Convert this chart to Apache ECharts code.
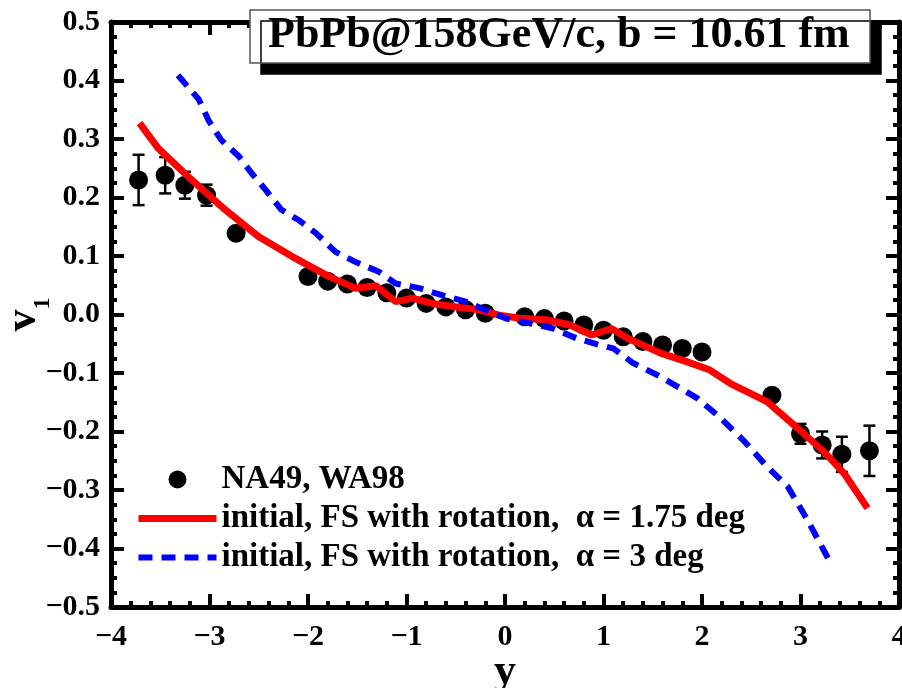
<!DOCTYPE html>
<html>
<head>
<meta charset="utf-8">
<script src="https://cdn.jsdelivr.net/npm/echarts@6/dist/echarts.min.js"></script>
<style>
  html, body { margin: 0; padding: 0; background: #fff; }
  #chart { width: 902px; height: 688px; }
</style>
</head>
<body>
<div id="chart"></div>
<script>
// data points NA49, WA98 (y, v1, error)
var dataX = [-3.72, -3.45, -3.25, -3.03, -2.73, -2.0, -1.8, -1.6, -1.4, -1.2, -1.0, -0.8, -0.6, -0.4, -0.2,
             0.2, 0.4, 0.6, 0.8, 1.0, 1.2, 1.4, 1.6, 1.8, 2.0, 2.71, 3.0, 3.22, 3.42, 3.70];
var dataY = [0.230, 0.238, 0.221, 0.204, 0.139, 0.065, 0.057, 0.052, 0.046, 0.037, 0.028, 0.019, 0.013, 0.008, 0.002,
             -0.004, -0.007, -0.011, -0.018, -0.027, -0.038, -0.046, -0.052, -0.058, -0.064, -0.138, -0.204, -0.223, -0.239, -0.233];
var dataErr = [0.043, 0.031, 0.023, 0.018, 0, 0, 0, 0, 0, 0, 0, 0, 0, 0, 0,
               0, 0, 0, 0, 0, 0, 0, 0, 0, 0, 0, 0.017, 0.023, 0.030, 0.043];

// alpha = 1.75 deg
var redX = [-3.71, -3.52, -3.18, -2.84, -2.50, -2.16, -1.80, -1.52, -1.31, -1.11, -0.94, -0.74, -0.46, -0.26, -0.06,
            0.15, 0.42, 0.66, 0.88, 1.08, 1.25, 1.58, 1.85, 2.08, 2.29, 2.66, 3.01, 3.24, 3.44, 3.68];
var redY = [0.327, 0.284, 0.230, 0.179, 0.133, 0.099, 0.066, 0.045, 0.049, 0.022, 0.028, 0.019, 0.012, 0.008, -0.001,
            -0.0065, -0.009, -0.018, -0.035, -0.024, -0.041, -0.066, -0.081, -0.095, -0.118, -0.149, -0.200, -0.235, -0.271, -0.331];

// alpha = 3 deg
var blueX = [-3.32, -3.11, -3.01, -2.88, -2.70, -2.57, -2.43, -2.27, -2.10, -1.92, -1.72, -1.52, -1.28, -1.11, -0.87, -0.64, -0.40, -0.16,
             0.01, 0.25, 0.49, 0.73, 0.96, 1.10, 1.30, 1.54, 1.78, 1.95, 2.19, 2.42, 2.66, 2.87, 3.07, 3.29];
var blueY = [0.409, 0.368, 0.332, 0.298, 0.270, 0.241, 0.213, 0.179, 0.162, 0.139, 0.107, 0.090, 0.073, 0.053, 0.045, 0.033, 0.022, 0.005,
             -0.007, -0.015, -0.024, -0.041, -0.052, -0.058, -0.083, -0.103, -0.126, -0.143, -0.177, -0.215, -0.260, -0.294, -0.351, -0.420];

var seriesNames = ['NA49, WA98', 'initial, FS with rotation,  \u03b1 = 1.75 deg', 'initial, FS with rotation,  \u03b1 = 3 deg'];
var titleText = 'PbPb@158GeV/c, b = 10.61 fm';

var FONT = '"Liberation Serif", "Times New Roman", serif';

var pairs = function(xs, ys){
    return xs.map(function(x, i){ return [x, ys[i]]; });
};
var minus = function(s){ return s.replace('-', '\u2212'); };

var axisBase = function(pos, showLabel, isX){
    return {
        type: 'value',
        position: pos,
        min: isX ? -4 : -0.5,
        max: isX ? 4 : 0.5,
        interval: isX ? 1 : 0.1,
        axisLine: { show: true, onZero: false, lineStyle: { color: '#000', width: 5 } },
        axisTick: { show: true, inside: true, length: 13, lineStyle: { color: '#000', width: 4 } },
        minorTick: { show: true, splitNumber: isX ? 5 : 4, length: 6, lineStyle: { color: '#000', width: 4 } },
        splitLine: { show: false },
        axisLabel: {
            show: showLabel,
            margin: isX ? 15 : 11,
            fontFamily: FONT, fontWeight: 'bold', fontSize: 30, color: '#000',
            formatter: function(v){
                return isX ? minus(String(Math.round(v))) : minus(v.toFixed(1));
            }
        }
    };
};

var xBottom = axisBase('bottom', true, true);
xBottom.name = 'y';
xBottom.nameLocation = 'middle';
xBottom.nameGap = 44;
xBottom.nameMoveOverlap = false;
xBottom.nameTextStyle = { fontFamily: FONT, fontWeight: 'bold', fontSize: 44, color: '#000' };

var yLeft = axisBase('left', true, false);
yLeft.name = '{v|v}{s|1}';
yLeft.nameLocation = 'middle';
yLeft.nameRotate = 90;
yLeft.nameGap = 56;
yLeft.nameMoveOverlap = false;
yLeft.nameTextStyle = {
    color: '#000',
    rich: {
        v: { fontFamily: FONT, fontWeight: 'bold', fontSize: 44, color: '#000' },
        s: { fontFamily: FONT, fontWeight: 'bold', fontSize: 24, color: '#000', padding: [38, 0, 0, 0] }
    }
};

var chart = echarts.init(document.getElementById('chart'));
var option = {
    animation: false,
    backgroundColor: '#fff',
    title: {
        text: titleText,
        left: 250, top: 10,
        padding: [4, 20, 5, 18],
        backgroundColor: '#fff',
        borderColor: '#555', borderWidth: 1.5,
        shadowColor: '#000', shadowBlur: 0, shadowOffsetX: 11, shadowOffsetY: 11,
        textStyle: { fontFamily: FONT, fontWeight: 'bold', fontSize: 44, color: '#000' }
    },
    grid: { left: 111, right: 3, top: 22, bottom: 81, containLabel: false, outerBoundsMode: 'none' },
    legend: {
        data: [
            { name: seriesNames[0], icon: 'circle', itemStyle: { opacity: 1, color: '#000' } },
            { name: seriesNames[1], lineStyle: { width: 7 } },
            { name: seriesNames[2], lineStyle: { width: 6, type: [14, 9] } }
        ],
        orient: 'vertical',
        left: 135, top: 463,
        padding: 0,
        itemGap: 6,
        itemWidth: 78, itemHeight: 18,
        itemStyle: { opacity: 0 },
        textStyle: { fontFamily: FONT, fontWeight: 'bold', fontSize: 33, color: '#000' }
    },
    xAxis: [xBottom, axisBase('top', false, true)],
    yAxis: [yLeft, axisBase('right', false, false)],
    series: [
        {
            name: 'err',
            type: 'custom',
            z: 3,
            data: dataX.map(function(x, i){ return [x, dataY[i], dataErr[i]]; }),
            encode: { x: 0, y: 1 },
            renderItem: function(params, api){
                var e = api.value(2);
                if(!e) return null;
                var x = api.value(0), y = api.value(1);
                var hi = api.coord([x, y + e]), lo = api.coord([x, y - e]);
                var st = { stroke: '#000', lineWidth: 2.5 };
                return { type: 'group', children: [
                    { type: 'line', shape: { x1: hi[0], y1: hi[1], x2: lo[0], y2: lo[1] }, style: st },
                    { type: 'line', shape: { x1: hi[0] - 6, y1: hi[1], x2: hi[0] + 6, y2: hi[1] }, style: st },
                    { type: 'line', shape: { x1: lo[0] - 6, y1: lo[1], x2: lo[0] + 6, y2: lo[1] }, style: st }
                ]};
            }
        },
        {
            name: seriesNames[0],
            type: 'scatter',
            z: 4,
            symbol: 'circle',
            symbolSize: 19,
            itemStyle: { color: '#000', opacity: 1 },
            data: pairs(dataX, dataY)
        },
        {
            name: seriesNames[1],
            type: 'line',
            z: 5,
            showSymbol: false,
            symbol: 'none',
            itemStyle: { color: '#ff0000' },
            lineStyle: { color: '#ff0000', width: 7 },
            data: pairs(redX, redY)
        },
        {
            name: seriesNames[2],
            type: 'line',
            z: 5,
            showSymbol: false,
            symbol: 'none',
            itemStyle: { color: '#0000ff' },
            lineStyle: { color: '#0000ff', width: 6, type: [14, 9] },
            data: pairs(blueX, blueY)
        }
    ]
};
chart.setOption(option);
</script>
</body>
</html>
